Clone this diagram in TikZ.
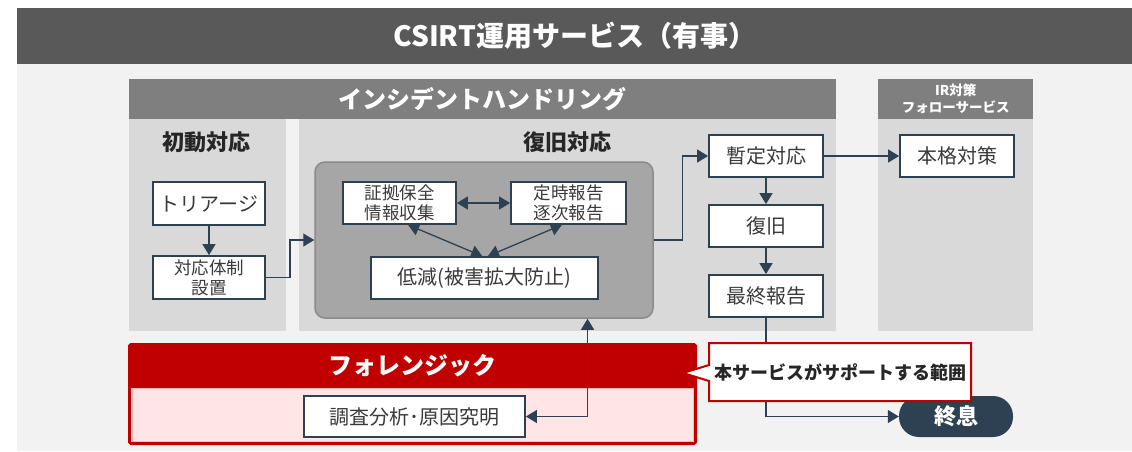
\documentclass[tikz,border=0pt]{standalone}
\usepackage{fontspec}
\setmainfont{Noto Sans CJK JP}
\usetikzlibrary{arrows.meta,calc}
\definecolor{titlegray}{HTML}{595959}
\definecolor{bggray}{HTML}{F2F2F2}
\definecolor{hdrgray}{HTML}{7F7F7F}
\definecolor{panelgray}{HTML}{D9D9D9}
\definecolor{rboxgray}{HTML}{A6A6A6}
\definecolor{rboxline}{HTML}{8A8A8A}
\definecolor{slate}{HTML}{2E4152}
\definecolor{fred}{HTML}{C00000}
\definecolor{fpink}{HTML}{FFE5E5}
\definecolor{fpinkline}{HTML}{F4BABA}
\definecolor{txt}{HTML}{3A3A3A}
\tikzset{
  hdrnode/.style={fill=hdrgray, text=white, inner sep=0pt, anchor=north west, font=\bfseries\fontsize{24}{28}\selectfont},
  paneltitle/.style={text=black!85, font=\bfseries\fontsize{22}{24}\selectfont, inner sep=0pt},
  wbox/.style={draw=slate, line width=1.8pt, fill=white, inner sep=0pt, text=txt, align=center, font=\fontsize{20}{22}\selectfont},
  wboxsmall/.style={wbox, font=\fontsize{17.5}{20}\selectfont},
  conn/.style={draw=slate, line width=1.3pt, -{Triangle[length=11pt,width=13pt]}},
  dconn/.style={draw=slate, line width=1.3pt, {Triangle[length=11pt,width=13pt]}-{Triangle[length=11pt,width=13pt]}},
}
\begin{document}
\begin{tikzpicture}[x=1pt,y=-1pt]
\useasboundingbox (0,0) rectangle (1132,451);
\fill[white] (0,0) rectangle (1132,451);
\fill[bggray] (17,64) rectangle (1132,451);
% title
\node[fill=titlegray, text=white, minimum width=1115pt, minimum height=56pt, inner sep=0pt, anchor=north west,
  font=\bfseries\fontsize{28}{30}\selectfont] (title) at (17,8) {CSIRT運用サービス（有事）};
% panels
\fill[panelgray] (129,119) rectangle (286,331);
\fill[panelgray] (299,119) rectangle (836,331);
\fill[panelgray] (878,119) rectangle (1033,331);
\node[hdrnode, minimum width=707pt, minimum height=40pt] (ihhdr) at (129,79) {インシデントハンドリング};
\node[hdrnode, minimum width=155pt, minimum height=40pt, align=center,
  font=\bfseries\fontsize{13.5}{17}\selectfont] (irhdr) at (878,79) {IR対策\\フォローサービス};
\node[paneltitle] (p1title) at (206,142) {初動対応};
\node[paneltitle] (p2title) at (567,142) {復旧対応};
% rounded box
\node[draw=rboxline, line width=1.5pt, fill=rboxgray, rounded corners=10pt, minimum width=338pt, minimum height=156pt, inner sep=0pt] (rbox) at (484,240) {};
% boxes
\node[wbox, minimum width=112pt, minimum height=43pt] (triage) at (209,203.5) {トリアージ};
\node[wboxsmall, minimum width=112pt, minimum height=43pt] (taiou) at (209,277.5) {対応体制\\設置};
\node[wboxsmall, minimum width=113pt, minimum height=42pt] (evid) at (399.5,203) {証拠保全\\情報収集};
\node[wboxsmall, minimum width=115pt, minimum height=42pt] (sched) at (568.5,203) {定時報告\\逐次報告};
\node[wbox, minimum width=227pt, minimum height=42pt] (reduce) at (484.5,278) {低減(被害拡大防止)};
\node[wbox, minimum width=114pt, minimum height=42pt] (zantei) at (766,156) {暫定対応};
\node[wbox, minimum width=114pt, minimum height=42pt] (fukkyu) at (766,226) {復旧};
\node[wbox, minimum width=114pt, minimum height=42pt] (saishu) at (766,296) {最終報告};
\node[wbox, minimum width=114pt, minimum height=42pt] (honkaku) at (957,156) {本格対策};
% connectors
\draw[conn] (triage.south) -- (taiou.north);
\draw[conn] (taiou.east) -- ++(24,0) |- (rbox.west);
\draw[dconn] (evid.east) -- (sched.west);
\draw[dconn] ($(evid.south west)!0.575!(evid.south east)$) -- ($(reduce.north west)!0.49!(reduce.north east)$);
\draw[dconn] ($(sched.south west)!0.443!(sched.south east)$) -- ($(reduce.north west)!0.515!(reduce.north east)$);
\draw[conn] (rbox.east) -- ++(29,0) |- (zantei.west);
\draw[conn] (zantei.east) -- (honkaku.west);
\draw[conn] (zantei.south) -- (fukkyu.north);
\draw[conn] (fukkyu.south) -- (saishu.north);
% terminal
\node[fill=slate, rounded corners=20pt, minimum width=114pt, minimum height=41pt, inner sep=0pt, text=white,
  font=\bfseries\fontsize{22}{24}\selectfont] (shusoku) at (956,416.5) {終息};
\draw[conn] (saishu.south) |- (shusoku.west);
% forensic
\draw[fred, line width=3pt, fill=fpink, rounded corners=1.5pt] (129.5,344.5) rectangle (695.5,443.5);
\fill[fred] (129.5,344.5) rectangle (695.5,388);
\draw[fpinkline, line width=0.8pt] (132,388.5) rectangle (693,441.5);
\node[text=white, font=\bfseries\fontsize{24}{28}\selectfont, inner sep=0pt] (fortitle) at (412,366) {フォレンジック};
\node[wbox, minimum width=221pt, minimum height=41pt] (chousa) at (414.5,416.5) {調査分析･原因究明};
\draw[dconn] (chousa.east) -| ($(rbox.south west)!0.805!(rbox.south east)$);
% callout
\draw[fred, line width=2pt, fill=white] (709,343) -- (971,343) -- (971,401) -- (709,401) -- (709,381) -- (683,373) -- (709,365) -- cycle;
\node[text=black!85, font=\bfseries\fontsize{18}{20}\selectfont, inner sep=0pt] (scope) at (840,372) {本サービスがサポートする範囲};
\end{tikzpicture}
\end{document}
